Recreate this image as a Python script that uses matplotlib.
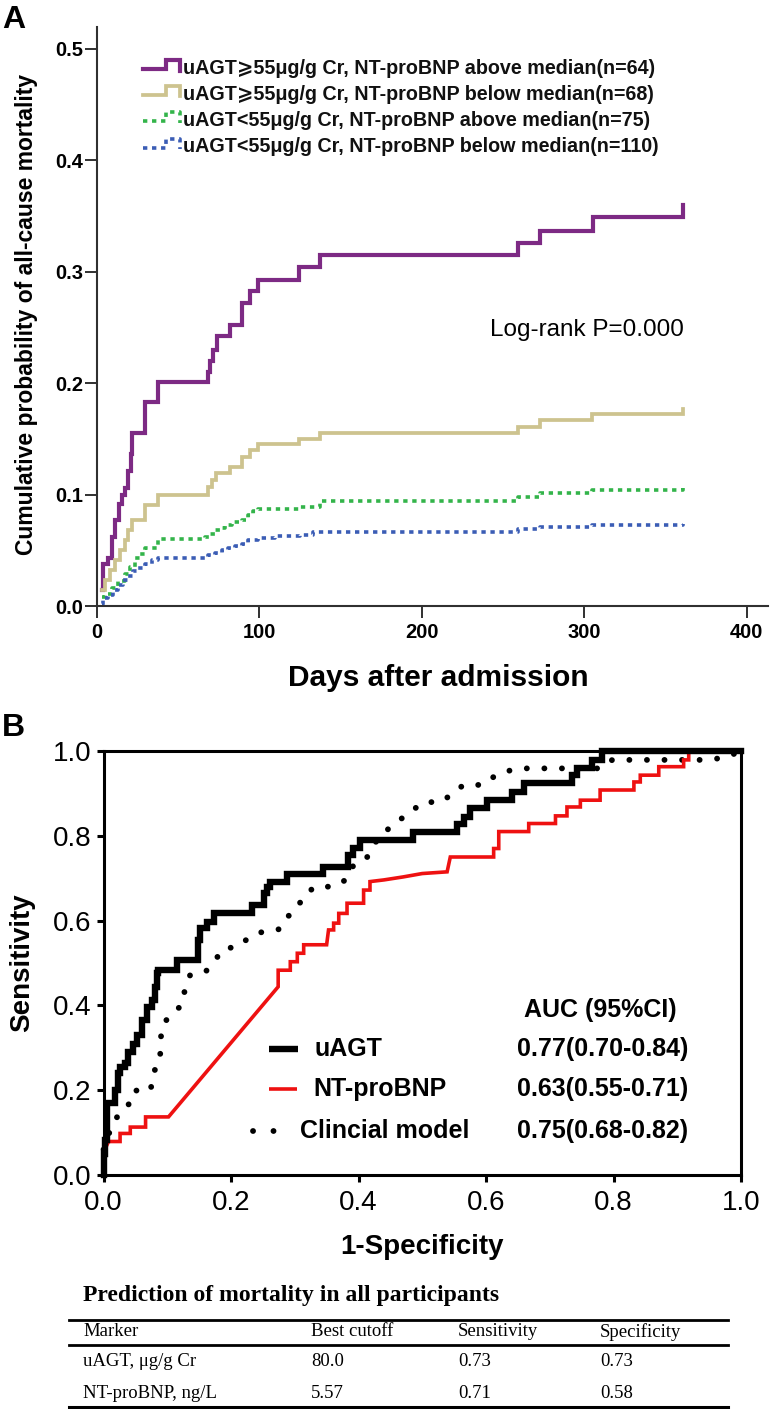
import matplotlib
matplotlib.use('Agg')
import matplotlib.pyplot as plt
from matplotlib.lines import Line2D

# ---------------- DATA ----------------
# Panel A: Kaplan-Meier cumulative mortality (step at day -> new cumulative value)
km_labels = [
    "uAGT\u2A7E55\u03bcg/g Cr, NT-proBNP above median(n=64)",
    "uAGT\u2A7E55\u03bcg/g Cr, NT-proBNP below median(n=68)",
    "uAGT<55\u03bcg/g Cr, NT-proBNP above median(n=75)",
    "uAGT<55\u03bcg/g Cr, NT-proBNP below median(n=110)",
]
purple_t = [3.0, 4.1, 6.7, 9.2, 11.3, 13.7, 15.4, 17.4, 19.5, 21.1, 21.9, 29.7, 37.5, 68.3, 69.7,
            71.8, 73.8, 82.0, 89.2, 94.3, 99.5, 124.5, 137.4, 259.5, 272.8, 305.6, 361.0]
purple_p = [0.014, 0.038, 0.043, 0.062, 0.077, 0.092, 0.100, 0.106, 0.121, 0.136, 0.155, 0.183, 0.201,
            0.210, 0.220, 0.230, 0.242, 0.252, 0.272, 0.283, 0.293, 0.304, 0.315, 0.326, 0.337, 0.349, 0.360]
tan_t = [3.0, 5.1, 8.2, 11.3, 14.3, 17.4, 19.5, 21.9, 29.7, 37.5, 68.3, 70.7, 73.2, 82.0, 89.2, 94.3,
         99.5, 124.5, 137.4, 259.5, 273.0, 304.8, 361.0]
tan_p = [0.014, 0.023, 0.032, 0.041, 0.050, 0.059, 0.068, 0.077, 0.091, 0.100, 0.107, 0.113, 0.119,
         0.125, 0.134, 0.140, 0.145, 0.150, 0.155, 0.161, 0.167, 0.172, 0.177]
green_t = [3.0, 5.1, 9.2, 13.3, 17.4, 20.5, 23.6, 26.6, 29.7, 37.9, 66.6, 69.7, 72.8, 75.9, 78.9, 83.1,
           89.2, 93.3, 96.4, 99.5, 125.0, 137.4, 259.5, 273.0, 305.0, 361.0]
green_p = [0.008, 0.011, 0.016, 0.022, 0.029, 0.035, 0.043, 0.047, 0.052, 0.060, 0.062, 0.065, 0.068,
           0.070, 0.073, 0.075, 0.077, 0.082, 0.085, 0.087, 0.089, 0.094, 0.098, 0.101, 0.104, 0.106]
blue_t = [3.0, 4.1, 7.2, 10.2, 13.3, 16.4, 19.5, 22.5, 25.6, 29.7, 33.8, 37.9, 66.6, 68.7, 72.8, 76.9,
          81.0, 85.1, 89.2, 93.3, 99.5, 110.0, 125.0, 133.0, 259.5, 273.0, 305.0, 361.0]
blue_p = [0.002, 0.007, 0.010, 0.014, 0.019, 0.023, 0.027, 0.031, 0.034, 0.038, 0.041, 0.043, 0.044,
          0.046, 0.048, 0.050, 0.052, 0.054, 0.056, 0.059, 0.061, 0.063, 0.064, 0.066, 0.069, 0.071,
          0.073, 0.074]
km_xticks = [0, 100, 200, 300, 400]
km_yticks = [0.0, 0.1, 0.2, 0.3, 0.4, 0.5]

# Panel B: ROC curves (1-specificity, sensitivity) vertices
uagt_fpr = [0.000, 0.000, 0.002, 0.002, 0.005, 0.005, 0.018, 0.018, 0.023, 0.023, 0.026, 0.026, 0.034, 0.034,
            0.039, 0.039, 0.047, 0.047, 0.052, 0.052, 0.060, 0.060, 0.068, 0.068, 0.076, 0.076, 0.081, 0.081,
            0.084, 0.084, 0.086, 0.086, 0.115, 0.115, 0.149, 0.149, 0.152, 0.152, 0.162, 0.162, 0.173, 0.173,
            0.233, 0.233, 0.251, 0.251, 0.256, 0.256, 0.261, 0.261, 0.288, 0.288, 0.345, 0.345, 0.384, 0.384,
            0.392, 0.392, 0.403, 0.403, 0.486, 0.486, 0.554, 0.554, 0.565, 0.565, 0.575, 0.575, 0.601, 0.601,
            0.641, 0.641, 0.659, 0.659, 0.735, 0.735, 0.743, 0.743, 0.766, 0.766, 0.782, 0.782, 1.000]
uagt_tpr = [0.000, 0.050, 0.050, 0.083, 0.083, 0.169, 0.169, 0.200, 0.200, 0.240, 0.240, 0.255, 0.255, 0.263,
            0.263, 0.290, 0.290, 0.310, 0.310, 0.330, 0.330, 0.366, 0.366, 0.397, 0.397, 0.413, 0.413, 0.444,
            0.444, 0.476, 0.476, 0.484, 0.484, 0.507, 0.507, 0.554, 0.554, 0.582, 0.582, 0.597, 0.597, 0.617,
            0.617, 0.636, 0.636, 0.664, 0.664, 0.680, 0.680, 0.692, 0.692, 0.711, 0.711, 0.727, 0.727, 0.755,
            0.755, 0.771, 0.771, 0.790, 0.790, 0.810, 0.810, 0.829, 0.829, 0.845, 0.845, 0.865, 0.865, 0.884,
            0.884, 0.904, 0.904, 0.924, 0.924, 0.943, 0.943, 0.959, 0.959, 0.979, 0.979, 1.000, 1.000]
bnp_fpr = [0.000, 0.002, 0.008, 0.026, 0.026, 0.042, 0.042, 0.066, 0.066, 0.102, 0.274, 0.274, 0.293, 0.293,
           0.304, 0.304, 0.314, 0.314, 0.350, 0.353, 0.361, 0.361, 0.369, 0.369, 0.382, 0.382, 0.408, 0.408,
           0.418, 0.418, 0.440, 0.470, 0.500, 0.539, 0.544, 0.612, 0.612, 0.620, 0.620, 0.667, 0.667, 0.709,
           0.709, 0.727, 0.727, 0.748, 0.748, 0.779, 0.779, 0.832, 0.832, 0.842, 0.842, 0.871, 0.871, 0.910,
           0.910, 0.918, 0.918, 1.000]
bnp_tpr = [0.000, 0.060, 0.079, 0.079, 0.098, 0.098, 0.113, 0.113, 0.137, 0.137, 0.444, 0.483, 0.483, 0.503,
           0.503, 0.523, 0.523, 0.543, 0.543, 0.578, 0.578, 0.594, 0.594, 0.617, 0.617, 0.641, 0.641, 0.672,
           0.672, 0.692, 0.696, 0.703, 0.711, 0.715, 0.750, 0.750, 0.770, 0.770, 0.810, 0.810, 0.829, 0.829,
           0.847, 0.847, 0.868, 0.868, 0.884, 0.884, 0.908, 0.908, 0.927, 0.927, 0.943, 0.943, 0.963, 0.963,
           0.979, 0.979, 1.000, 1.000]
clin_fpr = [0.000, 0.005, 0.023, 0.039, 0.047, 0.074, 0.078, 0.089, 0.089, 0.093, 0.106, 0.123, 0.128, 0.136,
            0.161, 0.175, 0.187, 0.212, 0.228, 0.250, 0.277, 0.288, 0.303, 0.315, 0.332, 0.361, 0.380, 0.390,
            0.411, 0.432, 0.450, 0.466, 0.484, 0.501, 0.531, 0.547, 0.565, 0.595, 0.612, 0.634, 0.659, 0.690,
            0.719, 0.780, 0.798, 0.828, 0.858, 0.888, 0.918, 0.948, 0.976, 1.000]
clin_tpr = [0.060, 0.087, 0.142, 0.165, 0.199, 0.200, 0.241, 0.270, 0.315, 0.354, 0.380, 0.400, 0.440, 0.472,
            0.481, 0.506, 0.533, 0.539, 0.560, 0.574, 0.580, 0.608, 0.628, 0.660, 0.680, 0.680, 0.696, 0.727,
            0.743, 0.798, 0.820, 0.839, 0.859, 0.879, 0.880, 0.900, 0.920, 0.920, 0.939, 0.953, 0.959, 0.959,
            0.959, 0.959, 0.979, 0.979, 0.979, 0.979, 0.979, 0.979, 0.985, 1.000]
roc_names = ["uAGT", "NT-proBNP", "Clincial model"]
roc_auc = ["0.77(0.70-0.84)", "0.63(0.55-0.71)", "0.75(0.68-0.82)"]
roc_ticks = [0.0, 0.2, 0.4, 0.6, 0.8, 1.0]

# Table
table_title = "Prediction of mortality in all participants"
table_header = ["Marker", "Best cutoff", "Sensitivity", "Specificity"]
table_rows = [["uAGT, \u03bcg/g Cr", "80.0", "0.73", "0.73"],
              ["NT-proBNP, ng/L", "5.57", "0.71", "0.58"]]

# ---------------- FIGURE ----------------
W, H = 773, 1409
fig = plt.figure(figsize=(W / 100, H / 100), dpi=100)
SANS = ['Liberation Sans', 'DejaVu Sans']
SERIF = ['Liberation Serif', 'DejaVu Serif']


def fx(px):
    return px / W


def fy(py):
    return 1 - py / H


# ---- Panel A ----
kx0, kx1, ky0, ky1 = 96.7, 768.0, 606.0, 27.0
ax1 = fig.add_axes([fx(kx0), fy(ky0), fx(kx1) - fx(kx0), fy(ky1) - fy(ky0)])
ax1.set_xlim(0, (kx1 - kx0) / 1.625)
ax1.set_ylim(0, (ky0 - ky1) / 1114.0)
km_colors = ['#7d2a84', '#cdc38f', '#33b44a', '#3b5db5']
ax1.step(purple_t, purple_p, where='post', color=km_colors[0], lw=3.0, solid_joinstyle='miter')
ax1.step(tan_t, tan_p, where='post', color=km_colors[1], lw=2.7, solid_joinstyle='miter')
ax1.step(green_t, green_p, where='post', color=km_colors[2], lw=2.6, linestyle=(0, (1.2, 1.3)))
ax1.step(blue_t, blue_p, where='post', color=km_colors[3], lw=2.6, linestyle=(0, (1.2, 1.3)))
for s in ['top', 'right']:
    ax1.spines[s].set_visible(False)
for s in ['left', 'bottom']:
    ax1.spines[s].set_linewidth(1.5)
    ax1.spines[s].set_color('#303030')
ax1.set_xticks(km_xticks)
ax1.set_yticks(km_yticks)
ax1.set_yticklabels([f"{v:.1f}" for v in km_yticks])
ax1.tick_params(axis='both', direction='out', length=8.5, width=1.4, color='#303030')
ax1.tick_params(axis='y', pad=1.5)
ax1.tick_params(axis='x', pad=3.5)
for lab in ax1.get_xticklabels() + ax1.get_yticklabels():
    lab.set_fontfamily(SANS)
    lab.set_fontweight('bold')
    lab.set_fontsize(14.5)

fig.text(fx(438), fy(678), "Days after admission", fontsize=21.5, fontweight='bold',
         family=SANS, ha='center', va='center')
fig.text(fx(27), fy(314), "Cumulative probability of all-cause mortality", fontsize=16.5,
         fontweight='bold', family=SANS, ha='center', va='center', rotation=90)
fig.text(fx(490), fy(330), "Log-rank P=0.000", fontsize=17.5, family=SANS, ha='left', va='center')
fig.text(fx(2), fy(20), "A", fontsize=23, fontweight='bold', family=SANS, ha='left', va='center')

# KM legend with step glyphs
legend_rows = [68.5, 94.0, 120.5, 147.0]
km_styles = [dict(lw=3.0, ls='-'), dict(lw=2.7, ls='-'),
             dict(lw=2.6, ls=(0, (1.2, 1.3))), dict(lw=2.6, ls=(0, (1.2, 1.3)))]
for yc, lab, col, st in zip(legend_rows, km_labels, km_colors, km_styles):
    gx = [143, 165.5, 165.5, 180, 180]
    gy = [yc + 0.5, yc + 0.5, yc - 8.5, yc - 8.5, yc + 2]
    fig.add_artist(Line2D([fx(v) for v in gx], [fy(v) for v in gy], color=col,
                          lw=st['lw'], linestyle=st['ls'], solid_joinstyle='miter'))
    fig.text(fx(183), fy(yc), lab, fontsize=14.2, fontweight='bold', family=SANS,
             ha='left', va='center', color='#111111')

# ---- Panel B ----
rx0, rx1, ry0, ry1 = 103.5, 741.0, 1175.0, 751.0
ax2 = fig.add_axes([fx(rx0), fy(ry0), fx(rx1) - fx(rx0), fy(ry1) - fy(ry0)])
ax2.set_xlim(0, 1)
ax2.set_ylim(0, 1)
ax2.plot(bnp_fpr, bnp_tpr, color='#ee1111', lw=2.6, clip_on=False, solid_joinstyle='miter', zorder=3)
ax2.plot(clin_fpr, clin_tpr, color='black', lw=4.2, linestyle=(0, (0.01, 3.0)),
         dash_capstyle='round', clip_on=False, zorder=2)
ax2.plot(uagt_fpr, uagt_tpr, color='black', lw=4.6, clip_on=False, solid_joinstyle='miter', zorder=4)
for s in ax2.spines.values():
    s.set_linewidth(2.2)
    s.set_color('black')
ax2.set_xticks(roc_ticks)
ax2.set_yticks(roc_ticks)
ax2.set_xticklabels([f"{v:.1f}" for v in roc_ticks])
ax2.set_yticklabels([f"{v:.1f}" for v in roc_ticks])
ax2.tick_params(axis='both', direction='out', length=5, width=2.2, labelsize=20)
ax2.tick_params(axis='x', pad=6)
ax2.tick_params(axis='y', pad=3.5)
for lab in ax2.get_xticklabels() + ax2.get_yticklabels():
    lab.set_fontfamily(SANS)

fig.text(fx(422), fy(1247), "1-Specificity", fontsize=20, fontweight='bold', family=SANS,
         ha='center', va='center')
fig.text(fx(22), fy(963), "Sensitivity", fontsize=20, fontweight='bold', family=SANS,
         ha='center', va='center', rotation=90)
fig.text(fx(2), fy(728), "B", fontsize=23, fontweight='bold', family=SANS, ha='left', va='center')

# ROC legend & AUC
fig.text(fx(600), fy(1010), "AUC (95%CI)", fontsize=18, fontweight='bold', family=SANS,
         ha='center', va='center')
roc_rows = [1049, 1089, 1131]
name_x = [315, 313, 300]
fig.add_artist(Line2D([fx(269), fx(298)], [fy(roc_rows[0])] * 2, color='black', lw=4.6,
                      solid_capstyle='butt'))
fig.add_artist(Line2D([fx(269), fx(297)], [fy(roc_rows[1])] * 2, color='#ee1111', lw=2.6,
                      solid_capstyle='butt'))
fig.add_artist(Line2D([fx(253), fx(274)], [fy(roc_rows[2])] * 2, color='black', lw=4.2,
                      linestyle=(0, (0.01, 3.5)), dash_capstyle='round'))
for yy, nx, nm, auc in zip(roc_rows, name_x, roc_names, roc_auc):
    fig.text(fx(nx), fy(yy), nm, fontsize=18, fontweight='bold', family=SANS, ha='left', va='center')
    fig.text(fx(603), fy(yy), auc, fontsize=18, fontweight='bold', family=SANS, ha='center', va='center')

# ---- Table ----
fig.text(fx(83), fy(1295), table_title, fontsize=17, fontweight='bold', family=SERIF,
         ha='left', va='center')
for yy, lw in [(1320, 2.0), (1345, 2.0), (1407, 2.2)]:
    fig.add_artist(Line2D([fx(69), fx(728)], [fy(yy)] * 2, color='black', lw=lw))
col_x = [83, 311, 458, 600]
for cx, txt in zip(col_x, table_header):
    fig.text(fx(cx), fy(1332), txt, fontsize=13.5, family=SERIF, ha='left', va='center')
for yy, row in zip([1361, 1393], table_rows):
    for cx, txt in zip(col_x, row):
        fig.text(fx(cx), fy(yy), txt, fontsize=13.5, family=SERIF, ha='left', va='center')

fig.savefig('out.png', dpi=100)
